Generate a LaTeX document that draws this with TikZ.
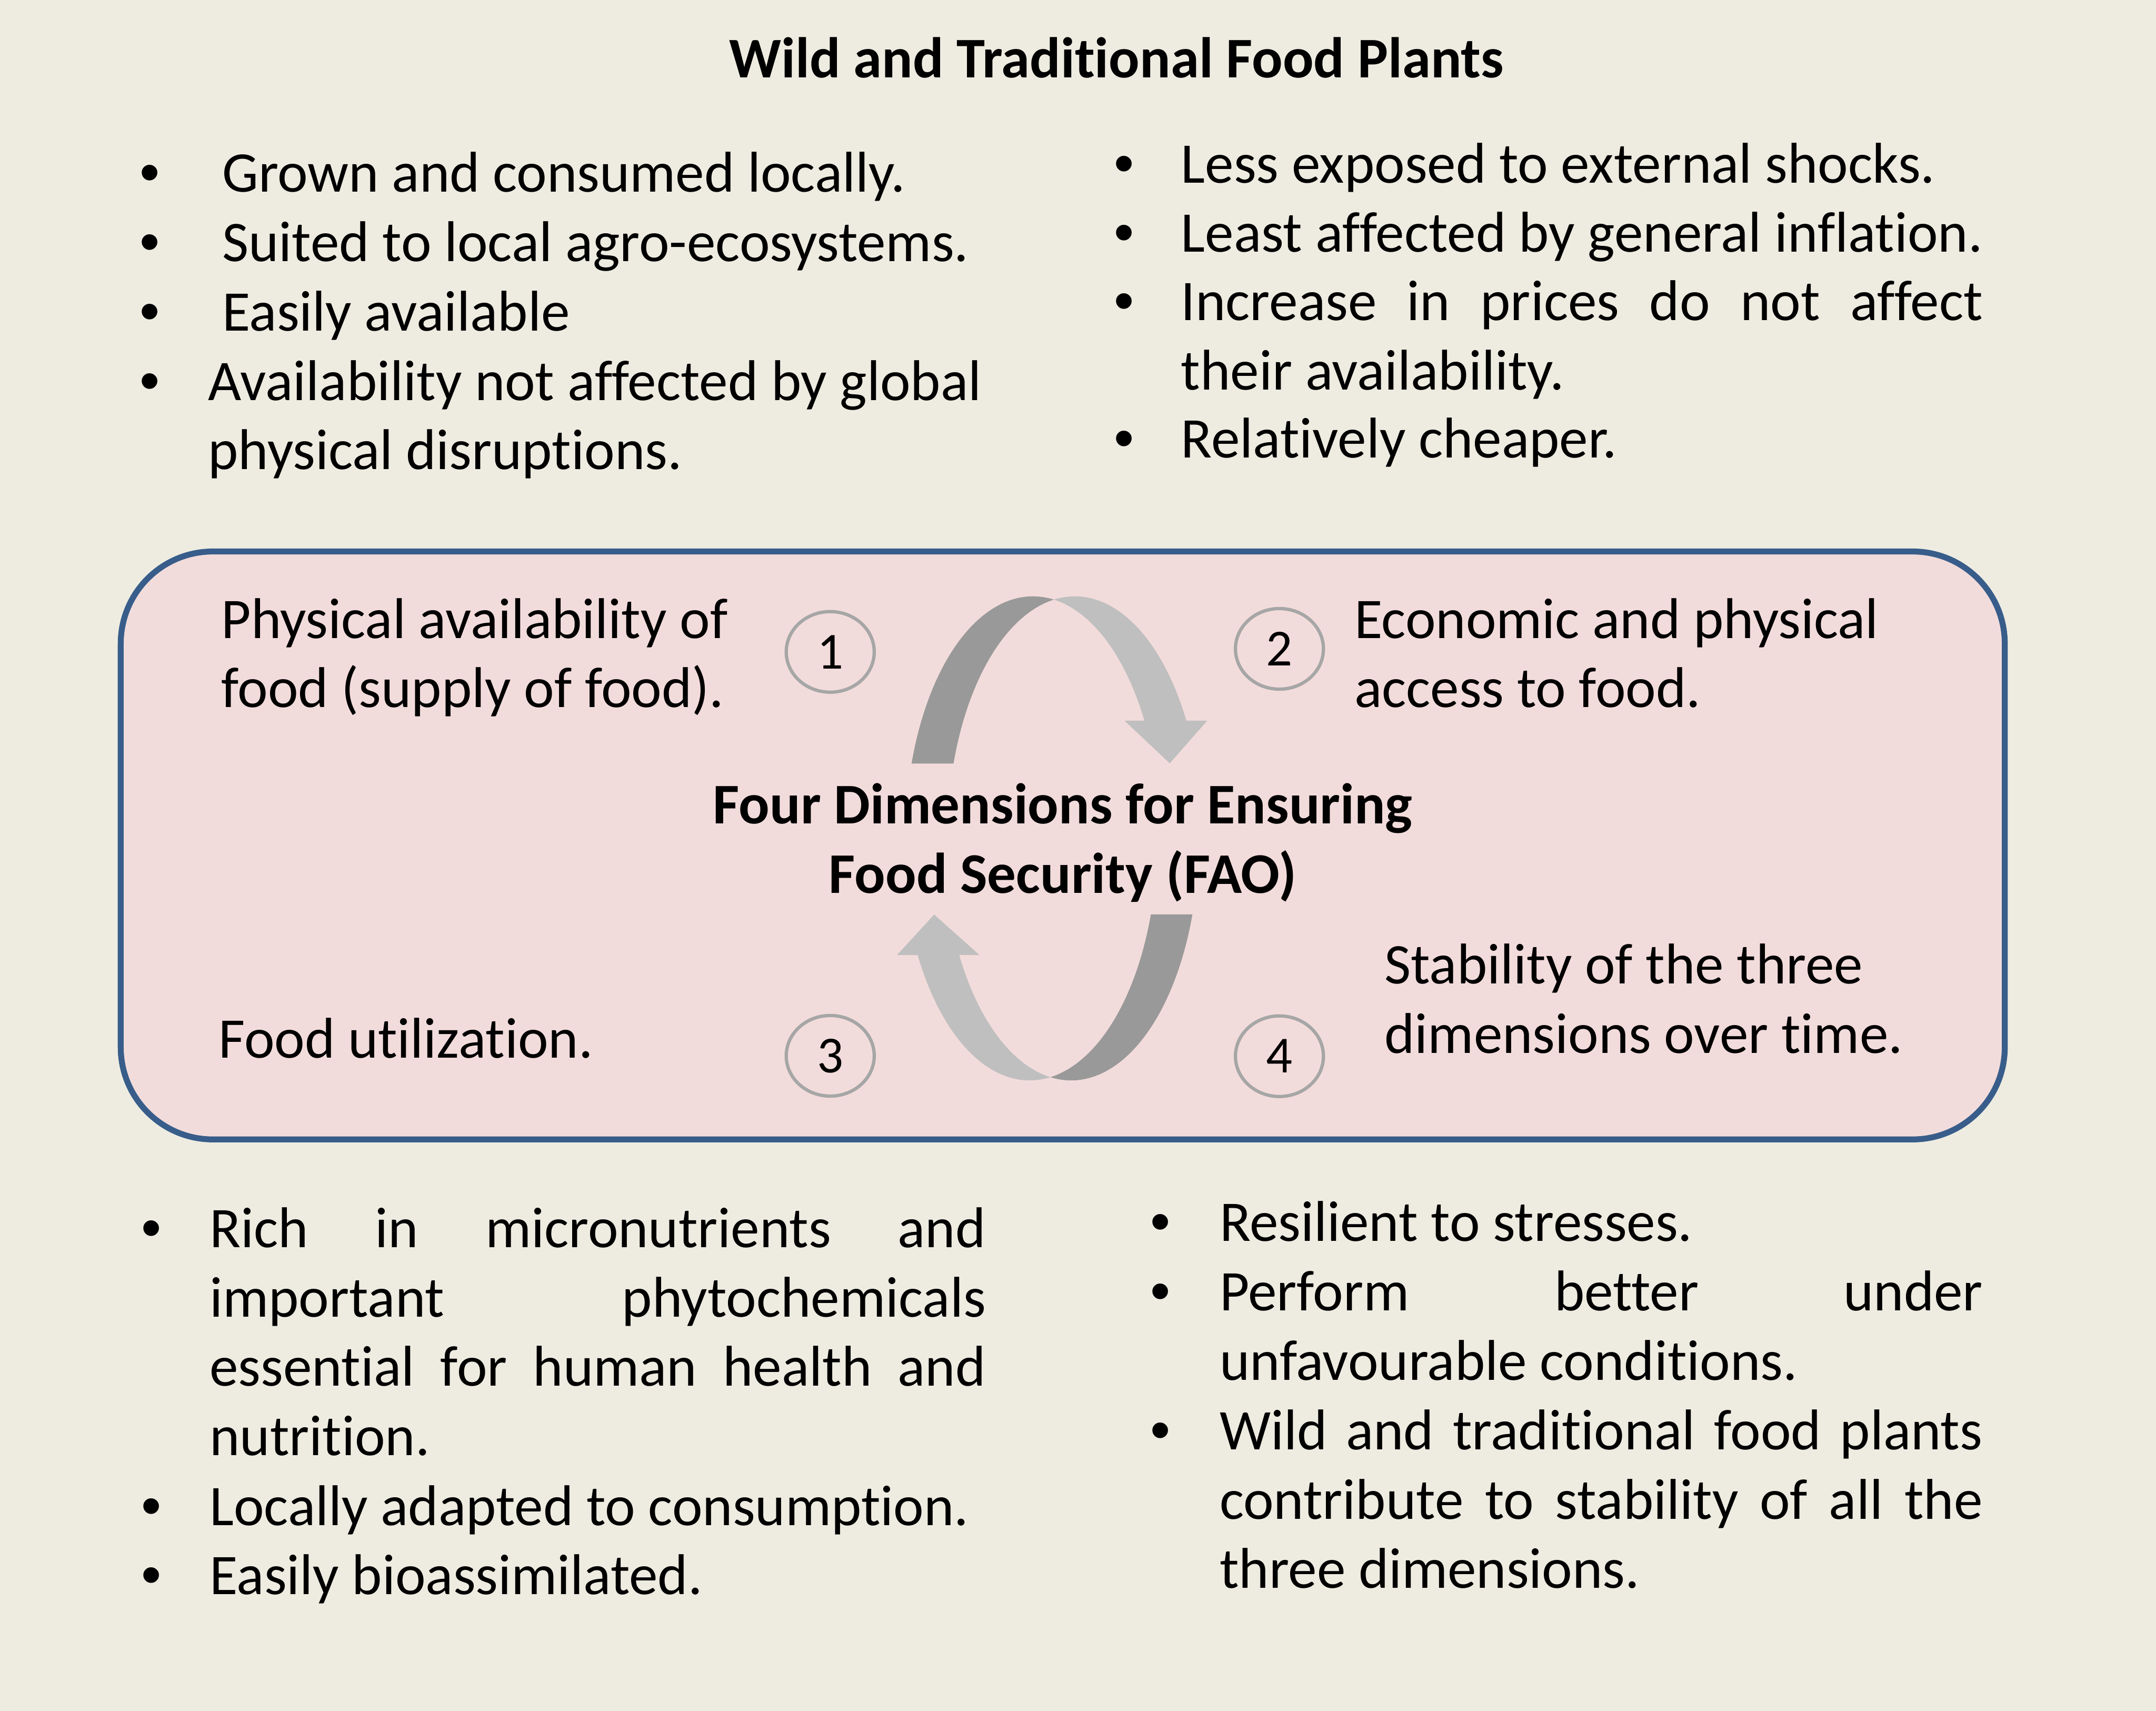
\documentclass[tikz,border=0pt]{standalone}
\usepackage{fontspec}
\setmainfont{Carlito}[Ligatures=NoCommon]
\newfontfamily\bulletfont{Liberation Sans}
\usetikzlibrary{shapes.geometric}
\definecolor{bgcol}{HTML}{EEECE1}
\definecolor{boxfill}{HTML}{F2DCDB}
\definecolor{boxline}{HTML}{385D8A}
\definecolor{circline}{HTML}{A6A6A6}
\definecolor{arrdark}{HTML}{999999}
\definecolor{arrlight}{HTML}{BFBFBF}
\begin{document}
\begin{tikzpicture}[x=0.5pt,y=-0.5pt,
  txt/.style={inner sep=0pt, outer sep=0pt, anchor=base west, font=\fontsize{20.9}{25.2}\selectfont},
  boldtxt/.style={txt, font=\fontsize{20.9}{25.2}\selectfont\bfseries},
  bul/.style={inner sep=0pt, outer sep=0pt, anchor=base, font=\fontsize{20.9}{25.2}\selectfont\bulletfont},
  numcirc/.style={ellipse, draw=circline, line width=1.2pt, minimum width=32pt, minimum height=29.3pt, inner sep=0pt, font=\fontsize{18.9}{22}\selectfont},
  jpar/.style={txt, align=justify},
  lpar/.style={txt, align=flush left},
  panel/.style={draw=boxline, fill=boxfill, line width=2.15pt, rounded corners=33.5pt, inner sep=0pt},
]
\useasboundingbox (0,0) rectangle (1568,1244);
\fill[bgcol] (0,0) rectangle (1568,1244);

% title
\node[boldtxt, anchor=base] (title) at (812,56.5) {Wild and Traditional Food Plants};

% top left
\node[bul] (tlba) at (109,139.5) {•};
\node[bul] (tlbb) at (109,190) {•};
\node[bul] (tlbc) at (109,240.5) {•};
\node[bul] (tlbd) at (109,291) {•};
\node[txt] (tl1) at (161.7,139.5) {Grown and consumed locally.};
\node[txt] (tl2) at (161.7,190) {Suited to local agro-ecosystems.};
\node[txt] (tl3) at (161.7,240.5) {Easily available};
\node[lpar, text width=300pt] (tl4) at (151.4,291) {Availability not affected by global\\physical disruptions.};

% top right
\node[bul] (trba) at (817.7,133) {•};
\node[bul] (trbb) at (817.7,183) {•};
\node[bul] (trbc) at (817.7,233) {•};
\node[bul] (trbd) at (817.7,333) {•};
\node[txt] (tr1) at (859,133) {Less exposed to external shocks.};
\node[txt] (tr2) at (859,183) {Least affected by general inflation.};
\node[jpar, text width=291.5pt] (tr3) at (859,233) {Increase in prices do not affect\linebreak their availability.};
\node[txt] (tr4) at (859,333) {Relatively cheaper.};

% central panel
\node[panel, minimum width=685.1pt, minimum height=213.75pt] (box) at (772.9,614.75) {};

\node[lpar, text width=250pt] (d1) at (161,464) {Physical availability of\\food (supply of food).};
\node[lpar, text width=250pt] (d2) at (985,464) {Economic and physical\\access to food.};
\node[txt] (d3) at (159,769.4) {Food utilization.};
\node[lpar, text width=250pt] (d4) at (1007,715.4) {Stability of the three\\dimensions over time.};
\node[boldtxt, anchor=base, align=flush center, text width=300pt] (center) at (773,599) {Four Dimensions for Ensuring\\Food Security (FAO)};

\node[numcirc] (c1) at (603.8,474) {1};
\node[numcirc] (c2) at (930.5,471.8) {2};
\node[numcirc] (c3) at (603.8,767.7) {3};
\node[numcirc] (c4) at (930.5,768) {4};

% circular arrows (two crescents of shifted ellipses)
% top: E1 centre 751.2, E2 centre 781.7
\fill[arrdark] plot[domain=198:279.46, samples=60] ({751.2+92.8*cos(\x)},{609.6+176*sin(\x)})
  -- plot[domain=260.54:198, samples=60] ({781.7+92.8*cos(\x)},{609.6+176*sin(\x)}) -- cycle;
\fill[arrlight] plot[domain=260.54:330.9, samples=60] ({781.7+92.8*cos(\x)},{609.6+176*sin(\x)})
  -- (878,524) -- (850.7,555) -- (817.8,524)
  -- plot[domain=330.9:279.46, samples=60] ({751.2+92.8*cos(\x)},{609.6+176*sin(\x)}) -- cycle;
% bottom: E1 centre 748.8, E2 centre 779
\fill[arrdark] plot[domain=18.3:99.46, samples=60] ({779+92.9*cos(\x)},{609.6+176*sin(\x)})
  -- plot[domain=80.54:18.3, samples=60] ({748.8+92.9*cos(\x)},{609.6+176*sin(\x)}) -- cycle;
\fill[arrlight] plot[domain=80.54:151.2, samples=60] ({748.8+92.9*cos(\x)},{609.6+176*sin(\x)})
  -- (652.3,694.5) -- (679.4,665) -- (712.4,694.5)
  -- plot[domain=151.2:99.46, samples=60] ({779+92.9*cos(\x)},{609.6+176*sin(\x)}) -- cycle;

% bottom left
\node[bul] (blba) at (110,907) {•};
\node[bul] (blbb) at (110,1109) {•};
\node[bul] (blbc) at (110,1159.5) {•};
\node[jpar, text width=282.25pt] (bl1) at (152.5,907) {Rich in micronutrients and\linebreak important phytochemicals\linebreak essential for human health and\linebreak nutrition.};
\node[txt] (bl2) at (152.5,1109) {Locally adapted to consumption.};
\node[txt] (bl3) at (152.5,1159.5) {Easily bioassimilated.};

% bottom right
\node[bul] (brba) at (844,902.5) {•};
\node[bul] (brbb) at (844,953) {•};
\node[bul] (brbc) at (844,1054) {•};
\node[txt] (br1) at (887,902.5) {Resilient to stresses.};
\node[jpar, text width=277.5pt] (br2) at (887,953) {Perform better under\linebreak unfavourable conditions.};
\node[jpar, text width=277.5pt] (br3) at (887,1054) {Wild and traditional food plants\linebreak contribute to stability of all the\linebreak three dimensions.};
\end{tikzpicture}
\end{document}
